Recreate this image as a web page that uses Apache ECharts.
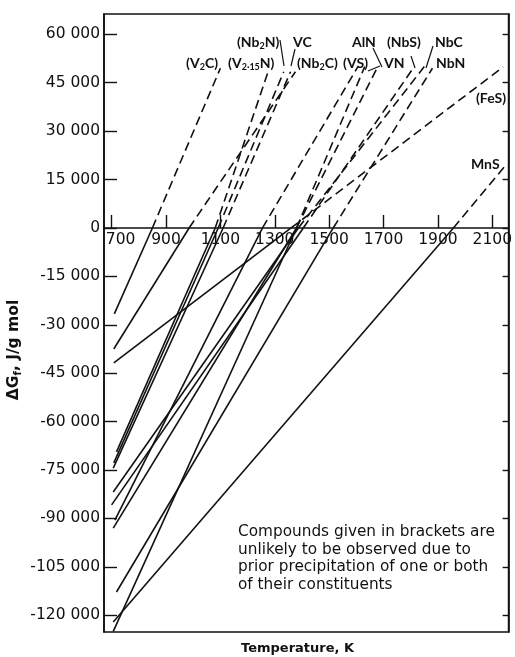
<!DOCTYPE html>
<html>
<head>
<meta charset="utf-8">
<script src="https://cdn.jsdelivr.net/npm/echarts@6/dist/echarts.min.js"></script>
<style>
  html, body { margin: 0; padding: 0; background: #fff; }
  #chart { width: 515px; height: 657px; }
</style>
</head>
<body>
<div id="chart"></div>
<script>
// compounds, in the order the lines are listed below
var compounds = ['(V2C)', '(Nb2C)', '(FeS)', 'MnS', 'NbN', '(VS)', '(V2.15N)', '(Nb2N)', 'VC', 'NbC', '(NbS)', 'AlN', 'VN'];
// left end of each line (K, J/g mol)
var startT = [710, 708, 708, 706, 718, 706, 718, 708, 706, 706, 700, 712, 706];
var startG = [-26600, -37500, -41800, -122100, -112800, -125000, -69400, -72800, -74400, -81800, -85800, -90500, -93000];
// where each line crosses dG = 0 (solid below, dashed above)
var zeroT = [850, 985, 1360, 1957, 1515, 1380, 1081, 1092, 1110, 1387, 1405, 1255, 1380];
// upper end of each dashed part
var endT = [1100, 1376, 2140, 2150, 1880, 1631, 1278, 1333, 1358, 1850, 1813, 1606, 1679];
var endG = [49500, 48400, 49900, 19500, 49500, 50000, 49000, 48400, 48400, 50000, 50000, 50000, 50000];

var xTicks = [700, 900, 1100, 1300, 1500, 1700, 1900, 2100];
var yTicks = [-120000, -105000, -90000, -75000, -60000, -45000, -30000, -15000, 0, 15000, 30000, 45000, 60000];

var yMin = -125200, yMax = 66300;
var gridTop = 14, gridBottom = 25, H = 657;
// move the x axis up onto dG = 0
var plotH = H - gridTop - gridBottom;
var zeroOffset = -plotH * (0 - yMin) / (yMax - yMin);

var FONT = 'Lato';
var TICKFONT = 'DejaVu Sans';
var INK = '#111';

function fmtG(v) {
	if (v === 0) return '0';
	var s = String(Math.abs(v)).replace(/\B(?=(\d{3})+(?!\d))/g, ' ');
	return (v < 0 ? '-' : '') + s;
}

var series = [];
compounds.forEach(function (name, i) {
	series.push({
		name: name,
		type: 'line',
		symbol: 'none',
		silent: true,
		lineStyle: { color: INK, width: 1.6, type: 'solid' },
		data: [[startT[i], startG[i]], [zeroT[i], 0]]
	});
	series.push({
		name: name + ' dashed',
		type: 'line',
		symbol: 'none',
		silent: true,
		lineStyle: { color: INK, width: 1.6, type: [9, 5] },
		data: [[zeroT[i], 0], [endT[i], endG[i]]]
	});
});

var sub = { s: { fontFamily: FONT, fontSize: 9, fontWeight: 'bold', color: INK, padding: [8, 0, 0, 0] } };
function label(text, x, y) {
	return {
		type: 'text', x: x, y: y,
		style: { text: text, font: 'bold 14px ' + FONT, fill: INK, rich: sub, verticalAlign: 'middle' }
	};
}
function tick(x1, y1, x2, y2) {
	return { type: 'line', shape: { x1: x1, y1: y1, x2: x2, y2: y2 }, style: { stroke: INK, lineWidth: 1.2 } };
}

var myChart = echarts.init(document.getElementById('chart'));
var option = {
	animation: false,
	backgroundColor: '#fff',
	grid: { left: 104, right: 2, top: gridTop, bottom: gridBottom, show: true, borderColor: INK, borderWidth: 1.6, backgroundColor: 'transparent' },
	xAxis: {
		type: 'value',
		min: 672,
		max: 2160,
		offset: zeroOffset,
		axisLine: { onZero: false, lineStyle: { color: INK, width: 1.6 } },
		axisTick: { inside: true, length: 13, customValues: xTicks, lineStyle: { color: INK, width: 1.4 } },
		axisLabel: {
			customValues: xTicks,
			margin: 4,
			color: INK,
			fontFamily: TICKFONT,
			fontSize: 15.5,
			formatter: function (v) { return v === 700 ? '{a|700}' : String(v); },
			rich: { a: { fontFamily: TICKFONT, fontSize: 15.5, color: INK, padding: [0, 0, 0, 18] } }
		},
		splitLine: { show: false }
	},
	yAxis: [{
		type: 'value',
		min: yMin,
		max: yMax,
		position: 'left',
		axisLine: { show: true, onZero: false, lineStyle: { color: INK, width: 1.6 } },
		axisTick: { inside: true, length: 13, customValues: yTicks, lineStyle: { color: INK, width: 1.4 } },
		axisLabel: { customValues: yTicks, margin: 4, color: INK, fontFamily: TICKFONT, fontSize: 15.5, formatter: fmtG },
		splitLine: { show: false }
	}, {
		type: 'value',
		min: yMin,
		max: yMax,
		position: 'right',
		axisLine: { show: true, onZero: false, lineStyle: { color: INK, width: 1.6 } },
		axisTick: { inside: true, length: 6, customValues: yTicks, lineStyle: { color: INK, width: 1.4 } },
		axisLabel: { show: false },
		splitLine: { show: false }
	}],
	graphic: [
		{
			type: 'text', x: 14, y: 350, rotation: Math.PI / 2,
			style: {
				text: '\u0394G{s|f}, J/g mol', font: 'bold 15.5px ' + TICKFONT, fill: INK,
				align: 'center', verticalAlign: 'middle',
				rich: { s: { fontFamily: TICKFONT, fontSize: 10, fontWeight: 'bold', color: INK, padding: [8, 0, 0, 0] } }
			}
		},
		{ type: 'text', x: 241, y: 642, style: { text: 'Temperature, K', font: 'bold 13px ' + TICKFONT, fill: INK } },
		{
			type: 'text', x: 238, y: 523,
			style: {
				text: 'Compounds given in brackets are\nunlikely to be observed due to\nprior precipitation of one or both\nof their constituents',
				font: '15.3px ' + TICKFONT, fill: INK, lineHeight: 17.7
			}
		},
		label('(V{s|2}C)', 186, 63),
		label('(V{s|2\u00b715}N)', 228, 63),
		label('(Nb{s|2}N)', 237, 42),
		label('VC', 293, 42),
		label('(Nb{s|2}C)', 297, 63),
		label('(VS)', 343, 63),
		label('VN', 384, 63),
		label('AlN', 352, 42),
		label('(NbS)', 387, 42),
		label('NbC', 435, 42),
		label('NbN', 436, 63),
		label('(FeS)', 476, 98),
		label('MnS', 471, 164),
		tick(280, 40, 284, 66),
		tick(295, 49, 291, 66),
		tick(373, 48, 382, 67),
		tick(380, 66, 368, 71),
		tick(411, 56, 415, 68),
		tick(433, 46, 426, 68)
	],
	series: series
};
myChart.setOption(option);
window.addEventListener('resize', function () {
	myChart.resize();
});
</script>
</body>
</html>
